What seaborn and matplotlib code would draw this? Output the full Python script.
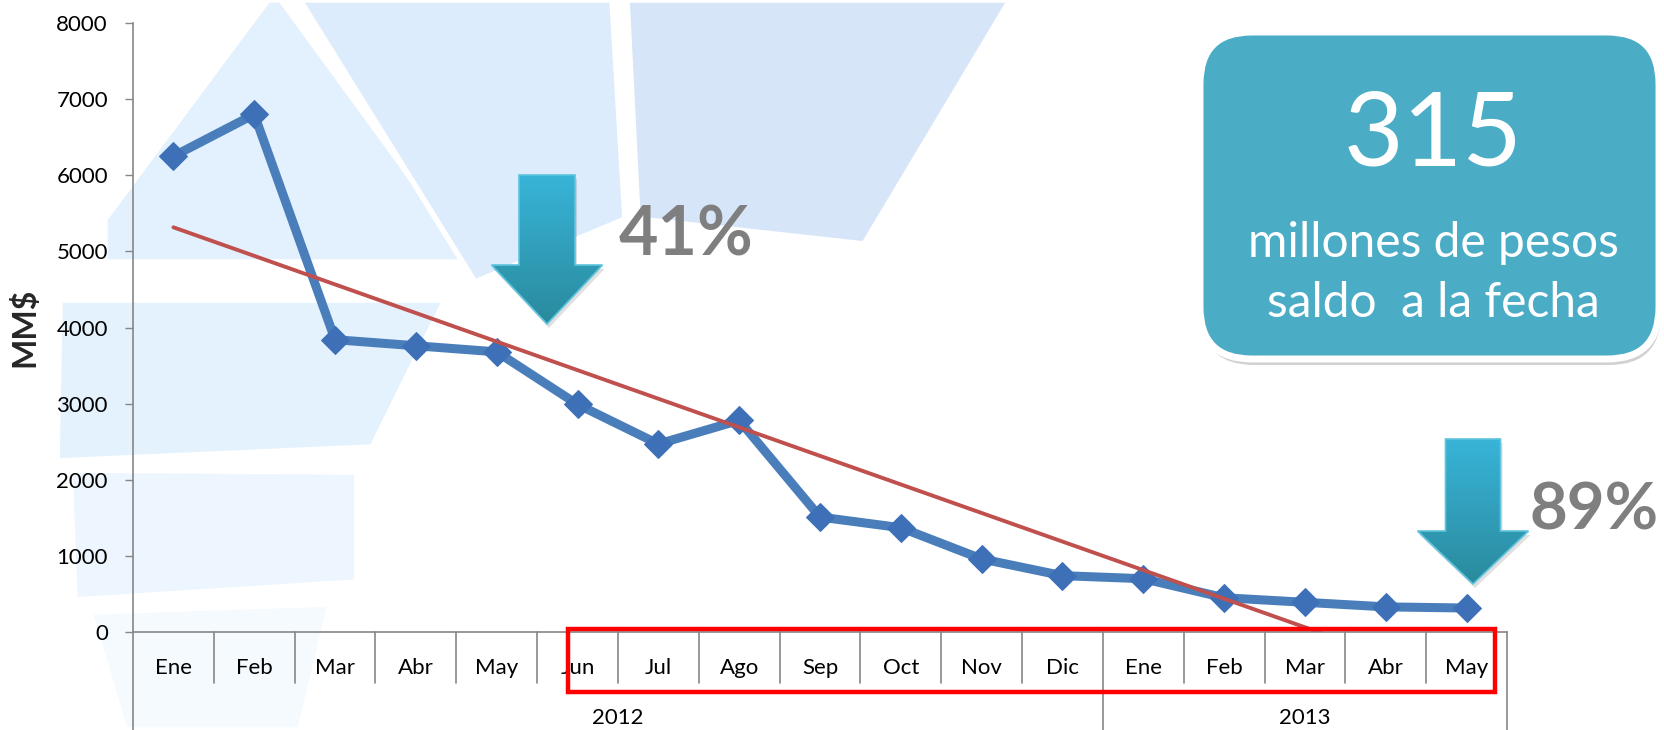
import numpy as np
import pandas as pd
import seaborn as sns
import matplotlib.pyplot as plt
from matplotlib.patches import Polygon, FancyBboxPatch, Rectangle
from matplotlib.colors import LinearSegmentedColormap

# =========================
# DATA
# =========================
meses = ["Ene", "Feb", "Mar", "Abr", "May", "Jun", "Jul", "Ago", "Sep", "Oct",
         "Nov", "Dic", "Ene", "Feb", "Mar", "Abr", "May"]
anios = ["2012"] * 12 + ["2013"] * 5
saldo = [6250, 6800, 3840, 3760, 3680, 2990, 2470, 2780, 1510, 1370,
         960, 740, 700, 450, 390, 330, 315]
y_ticks = [0, 1000, 2000, 3000, 4000, 5000, 6000, 7000, 8000]

saldo_actual = "315"
caja_lineas = ["millones de pesos", "saldo  a la fecha"]
baja_1 = "41%"
baja_2 = "89%"

df = pd.DataFrame({"idx": np.arange(len(meses)), "mes": meses, "anio": anios, "saldo": saldo})

# =========================
# STYLE
# =========================
sns.set_theme(style="white")
plt.rcParams["font.family"] = ["Lato", "DejaVu Sans"]

W, H = 1665, 730
fig = plt.figure(figsize=(W / 100, H / 100), dpi=100)

# background watermark (pixel coords, y down)
bg = fig.add_axes([0, 0, 1, 1], zorder=0)
bg.set_xlim(0, W)
bg.set_ylim(H, 0)
bg.axis("off")
fondo = [
    ([(268, 0), (281, 0), (472, 262), (105, 262), (105, 219)], "#E2F1FD"),
    ([(300, 0), (612, 0), (625, 219), (475, 282)], "#DCECFC"),
    ([(627, 0), (1010, 0), (864, 244), (638, 219)], "#D7E5F8"),
    ([(60, 300), (445, 300), (372, 447), (57, 461)], "#E4F2FD"),
    ([(70, 470), (357, 472), (357, 582), (75, 600)], "#EDF6FE"),
    ([(90, 612), (330, 604), (300, 730), (125, 730)], "#F4FAFE"),
]
for pts, col in fondo:
    bg.add_patch(Polygon(pts, closed=True, facecolor=col, edgecolor="white", lw=4,
                         joinstyle="round"))

# =========================
# MAIN CHART
# =========================
ax = fig.add_axes([133 / W, 1 - 632 / H, (1507 - 133) / W, (632 - 23) / H], zorder=1)
ax.patch.set_alpha(0)

sns.lineplot(data=df, x="idx", y="saldo", ax=ax, color="#4A7EBB", lw=6.5,
             marker="D", markersize=14, markerfacecolor="#3D70B7",
             markeredgecolor="#3D70B7")
sns.regplot(data=df, x="idx", y="saldo", ax=ax, scatter=False, ci=None,
            line_kws=dict(color="#C0504D", lw=2.8))

ax.set_xlim(-0.5, len(meses) - 0.5)
ax.set_ylim(0, 8000)
ax.set_yticks(y_ticks)
ax.set_xticks([])
ax.set_xlabel("")
ax.set_ylabel("MM$", fontsize=23, fontweight="bold")
ax.yaxis.set_label_coords(-0.068, 0.5)
ax.tick_params(axis="y", left=True, length=6, width=1, color="#868686",
               pad=12, labelsize=16, labelcolor="black")
for s in ["top", "right"]:
    ax.spines[s].set_visible(False)
for s in ["left", "bottom"]:
    ax.spines[s].set_color("#868686")
    ax.spines[s].set_linewidth(1.2)

# two-level category axis
trans = ax.get_xaxis_transform()
for i, m in enumerate(meses):
    ax.text(i, -0.059, m, transform=trans, ha="center", va="center",
            fontsize=16, color="black", clip_on=False)
for k in range(1, len(meses)):
    if anios[k] != anios[k - 1]:
        continue
    ax.plot([k - 0.5, k - 0.5], [0, -0.084], transform=trans, color="#868686",
            lw=1.2, clip_on=False)
limites = [-0.5] + [k - 0.5 for k in range(1, len(meses)) if anios[k] != anios[k - 1]] + [len(meses) - 0.5]
for b in limites:
    ax.plot([b, b], [0, -0.17], transform=trans, color="#868686", lw=1.2, clip_on=False)
for a in dict.fromkeys(anios):
    pos = df.loc[df["anio"] == a, "idx"].mean()
    ax.text(pos, -0.141, a, transform=trans, ha="center", va="center",
            fontsize=16, color="black", clip_on=False)

# red highlight box
ax.add_patch(Rectangle((4.88, -0.0985), 16.35 - 4.88, 0.1035, transform=trans,
                       facecolor="none", edgecolor="#FF0000", lw=3.2, clip_on=False, zorder=5))

# =========================
# OVERLAY: ARROWS, BOX, TEXTS
# =========================
ov = fig.add_axes([0, 0, 1, 1], zorder=3)
ov.patch.set_alpha(0)
ov.axis("off")

cmap_flecha = LinearSegmentedColormap.from_list("flecha", ["#38B4D8", "#2A8A9D"])


def flecha(cx, top, head_y, tip, shaft_w, head_w):
    pts = [(cx - shaft_w / 2, top), (cx + shaft_w / 2, top), (cx + shaft_w / 2, head_y),
           (cx + head_w / 2, head_y), (cx, tip), (cx - head_w / 2, head_y),
           (cx - shaft_w / 2, head_y)]
    sombra = [(x + 2, y + 4) for x, y in pts]
    ov.add_patch(Polygon(sombra, closed=True, facecolor="#000000", alpha=0.12, edgecolor="none"))
    poly = Polygon(pts, closed=True, facecolor="none", edgecolor="#5EC4DE", lw=1.2, zorder=4)
    ov.add_patch(poly)
    grad = np.linspace(0, 1, 256).reshape(-1, 1)
    im = ov.imshow(grad, cmap=cmap_flecha, extent=[cx - head_w / 2, cx + head_w / 2, tip, top],
                   aspect="auto", zorder=3)
    im.set_clip_path(poly)


flecha(547, 175, 265, 324, 56, 111)
flecha(1473, 439, 531, 584, 55, 111)

ov.text(686, 256, baja_1, ha="center", va="baseline", fontsize=49,
        fontweight="bold", color="#7F7F7F")
ov.text(1594, 530, baja_2, ha="center", va="baseline", fontsize=47,
        fontweight="bold", color="#7F7F7F")

# info box
ov.add_patch(FancyBboxPatch((1202, 38), 459, 327, boxstyle="round,pad=0,rounding_size=52",
                            facecolor="#000000", alpha=0.18, edgecolor="none"))
ov.add_patch(FancyBboxPatch((1200, 32), 459, 327, boxstyle="round,pad=0,rounding_size=52",
                            facecolor="#4BACC6", edgecolor="white", lw=5))
ov.text(1433, 165, saldo_actual, ha="center", va="baseline", fontsize=74, color="white")
ov.text(1433, 257, caja_lineas[0], ha="center", va="baseline", fontsize=34.5, color="white")
ov.text(1433, 317, caja_lineas[1], ha="center", va="baseline", fontsize=34.5, color="white")

ov.set_xlim(0, W)
ov.set_ylim(H, 0)

fig.savefig("out.png", dpi=100)
